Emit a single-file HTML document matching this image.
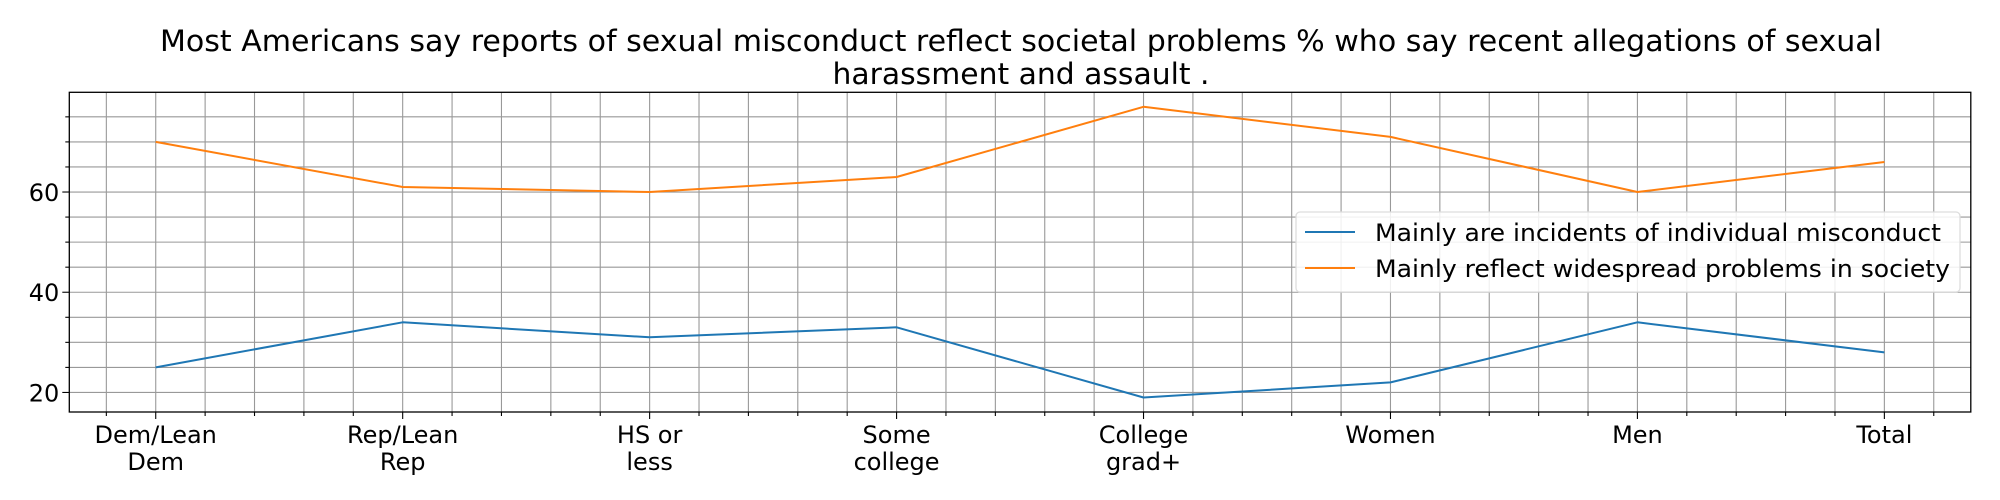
<!DOCTYPE html>
<html><head><meta charset="utf-8"><style>
html,body{margin:0;padding:0;background:#fff;}
svg{display:block;font-family:"DejaVu Sans","Liberation Sans",sans-serif;}
</style></head><body>
<svg id="chart" width="2000" height="500" viewBox="0 0 2000 500" xmlns="http://www.w3.org/2000/svg">
<text x="1021" y="51" text-anchor="middle" font-size="29" textLength="1722" lengthAdjust="spacingAndGlyphs">Most Americans say reports of sexual misconduct reflect societal problems % who say recent allegations of sexual</text>
<text x="1021" y="84" text-anchor="middle" font-size="29" textLength="377" lengthAdjust="spacingAndGlyphs">harassment and assault .</text>
<g id="grid"></g>
<g id="ticks"></g>
<g id="series"></g>
<rect x="69.3" y="92.3" width="1901.5" height="319.7" fill="none" stroke="#000" stroke-width="1.3"/>
<g>
<rect x="1296" y="212" width="664" height="80" rx="4" fill="#fff" fill-opacity="0.85" stroke="#ddd" stroke-width="1.3"/>
<line x1="1305" y1="232" x2="1355" y2="232" stroke="#1f77b4" stroke-width="2"/>
<text x="1375" y="241" font-size="24" textLength="566" lengthAdjust="spacingAndGlyphs">Mainly are incidents of individual misconduct</text>
<line x1="1305" y1="268" x2="1355" y2="268" stroke="#ff7f0e" stroke-width="2"/>
<text x="1375" y="277" font-size="24" textLength="575" lengthAdjust="spacingAndGlyphs">Mainly reflect widespread problems in society</text>
</g>
</svg>
<script>
const categories = [["Dem/Lean","Dem"],["Rep/Lean","Rep"],["HS or","less"],["Some","college"],["College","grad+"],["Women"],["Men"],["Total"]];
const individualValues = [25, 34, 31, 33, 19, 22, 34, 28];
const societyValues = [70, 61, 60, 63, 77, 71, 60, 66];
const yTickLabels = [20, 40, 60];

const NS = "http://www.w3.org/2000/svg";
const L = 69.3, R = 1970.8, T = 92.3, B = 412;
const xMin = -0.35, xMax = 7.35, yMin = 16.1, yMax = 79.9;
function xs(i){ return L + (i - xMin) / (xMax - xMin) * (R - L); }
function ys(v){ return B - (v - yMin) / (yMax - yMin) * (B - T); }
function mk(tag, attrs, parent){ const e = document.createElementNS(NS, tag); for (const k in attrs) e.setAttribute(k, attrs[k]); parent.appendChild(e); return e; }

const grid = document.getElementById('grid');
const ticks = document.getElementById('ticks');
// vertical grid: minor every 0.2
for (let k = -1; k <= 36; k++) {
  const v = k * 0.2;
  if (v < xMin || v > xMax) continue;
  const x = xs(v);
  const major = Math.abs(v - Math.round(v)) < 1e-6;
  const g = mk('line', {x1:x, x2:x, y1:T, y2:B, stroke:'#999', 'stroke-width':1.1}, grid);
  
  
  const t = mk('line', {x1:x, x2:x, y1:B, y2:B + (major ? 7 : 4), stroke:'#000', 'stroke-width':1.1}, ticks);
  
  
}
// horizontal grid: every 5
for (let v = 20; v <= 75; v += 5) {
  const y = ys(v);
  const major = v % 20 === 0;
  const g = mk('line', {x1:L, x2:R, y1:y, y2:y, stroke:'#999', 'stroke-width':1.1}, grid);
  
  
  const t = mk('line', {x1:L - (major ? 7 : 4), x2:L, y1:y, y2:y, stroke:'#000', 'stroke-width':1.1}, ticks);
  
  
}
yTickLabels.forEach(v => {
  const t = mk('text', {x:L - 10, y:ys(v) + 9, 'text-anchor':'end', 'font-size':24}, ticks);
  t.textContent = v;
  
  
});
categories.forEach((lines, i) => {
  lines.forEach((s, j) => {
    const t = mk('text', {x:xs(i), y:443 + j * 27, 'text-anchor':'middle', 'font-size':24}, ticks);
    t.textContent = s;
    
    
  });
});
const series = document.getElementById('series');
function drawLine(vals, color, name){
  const pts = vals.map((v, i) => xs(i).toFixed(1) + ',' + ys(v).toFixed(1)).join(' ');
  const p = mk('polyline', {points:pts, fill:'none', stroke:color, 'stroke-width':2, 'stroke-linejoin':'round'}, series);
  
  
}
drawLine(individualValues, '#1f77b4', 'line-individual-misconduct');
drawLine(societyValues, '#ff7f0e', 'line-widespread-problems');
</script>
</body></html>
